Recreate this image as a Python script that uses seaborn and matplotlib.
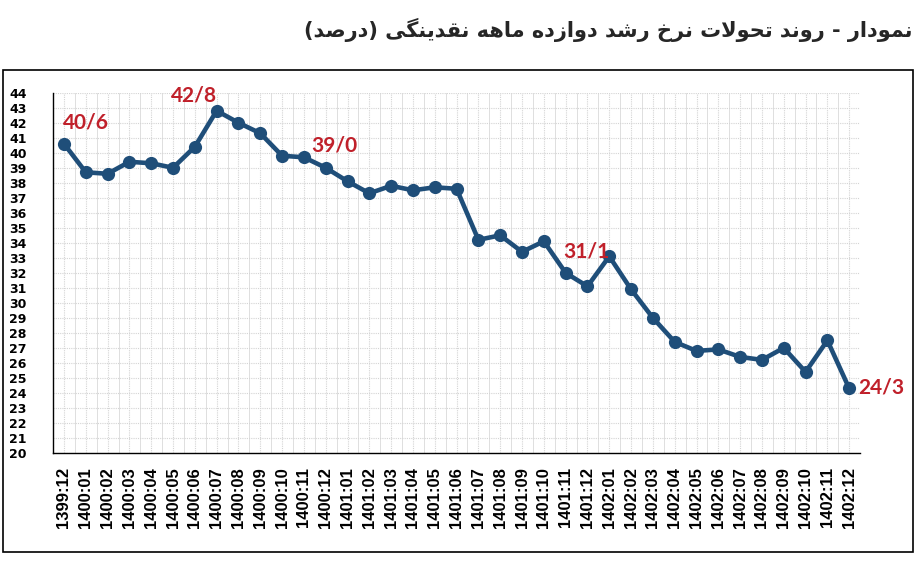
import seaborn as sns
import pandas as pd
import matplotlib.pyplot as plt
from matplotlib.patches import Rectangle
from matplotlib.ticker import FixedLocator

# data
periods = ["1399:12",
           "1400:01", "1400:02", "1400:03", "1400:04", "1400:05", "1400:06",
           "1400:07", "1400:08", "1400:09", "1400:10", "1400:11", "1400:12",
           "1401:01", "1401:02", "1401:03", "1401:04", "1401:05", "1401:06",
           "1401:07", "1401:08", "1401:09", "1401:10", "1401:11", "1401:12",
           "1402:01", "1402:02", "1402:03", "1402:04", "1402:05", "1402:06",
           "1402:07", "1402:08", "1402:09", "1402:10", "1402:11", "1402:12"]
growth = [40.6,
          38.7, 38.6, 39.4, 39.3, 39.0, 40.4,
          42.8, 42.0, 41.3, 39.8, 39.7, 39.0,
          38.1, 37.3, 37.8, 37.5, 37.7, 37.6,
          34.2, 34.5, 33.4, 34.1, 32.0, 31.1,
          33.1, 30.9, 29.0, 27.4, 26.8, 26.9,
          26.4, 26.2, 27.0, 25.4, 27.5, 24.3]
labeled = ["1399:12", "1400:07", "1400:12", "1401:12", "1402:12"]
label_offsets = [(16, 15), (-16, 11), (6, 16), (-1, 25), (23, 1)]

title = "نمودار - روند تحولات نرخ رشد دوازده ماهه نقدینگی (درصد)"

# matplotlib has no arabic shaping, so map letters to presentation forms
FORMS = {
    "ا": ("\uFE8D", "\uFE8E", None, None),
    "ت": ("\uFE95", "\uFE96", "\uFE97", "\uFE98"),
    "ح": ("\uFEA1", "\uFEA2", "\uFEA3", "\uFEA4"),
    "خ": ("\uFEA5", "\uFEA6", "\uFEA7", "\uFEA8"),
    "د": ("\uFEA9", "\uFEAA", None, None),
    "ر": ("\uFEAD", "\uFEAE", None, None),
    "ز": ("\uFEAF", "\uFEB0", None, None),
    "ش": ("\uFEB5", "\uFEB6", "\uFEB7", "\uFEB8"),
    "ص": ("\uFEB9", "\uFEBA", "\uFEBB", "\uFEBC"),
    "ق": ("\uFED5", "\uFED6", "\uFED7", "\uFED8"),
    "ل": ("\uFEDD", "\uFEDE", "\uFEDF", "\uFEE0"),
    "م": ("\uFEE1", "\uFEE2", "\uFEE3", "\uFEE4"),
    "ن": ("\uFEE5", "\uFEE6", "\uFEE7", "\uFEE8"),
    "ه": ("\uFEE9", "\uFEEA", "\uFEEB", "\uFEEC"),
    "و": ("\uFEED", "\uFEEE", None, None),
    "ی": ("\uFBFC", "\uFBFD", "\uFBFE", "\uFBFF"),
    "گ": ("\uFB92", "\uFB93", "\uFB94", "\uFB95"),
}


def shape_fa(text):
    out = []
    i = 0
    n = len(text)
    while i < n:
        c = text[i]
        if c not in FORMS:
            out.append(c)
            i += 1
            continue
        prev = text[i - 1] if i > 0 else None
        conn_prev = prev in FORMS and FORMS[prev][2] is not None
        if c == "ل" and i + 1 < n and text[i + 1] == "ا":
            out.append("\uFEFC" if conn_prev else "\uFEFB")
            i += 2
            continue
        nxt = text[i + 1] if i + 1 < n else None
        iso, fin, ini, med = FORMS[c]
        conn_next = ini is not None and nxt in FORMS
        if conn_prev and conn_next:
            out.append(med)
        elif conn_prev:
            out.append(fin)
        elif conn_next:
            out.append(ini)
        else:
            out.append(iso)
        i += 1
    return "".join(out)[::-1].translate(str.maketrans("()", ")("))


df = pd.DataFrame({"pos": range(len(periods)), "period": periods, "growth": growth})

sns.set_style("white")
plt.rcParams["font.family"] = ["DejaVu Sans"]

fig = plt.figure(figsize=(9.15, 5.62), dpi=100)
ax = fig.add_axes([0.058, 0.194, 0.882, 0.641])

sns.lineplot(data=df, x="pos", y="growth", ax=ax, color="#1F4E79",
             linewidth=3.3, marker="o", markersize=9.5, markeredgewidth=0,
             sort=False, zorder=5)

ax.set_xlim(-0.5, 36.5)
ax.set_ylim(20, 44)
ax.set_yticks(range(20, 45))
ax.set_xticks(df["pos"])
ax.set_xticklabels(periods, rotation=90, fontsize=12, fontweight="bold",
                   family="Liberation Sans")
for t in ax.get_yticklabels():
    t.set_fontsize(9)
    t.set_fontweight("bold")
ax.tick_params(axis="both", length=0, colors="black")
ax.tick_params(axis="y", pad=19)
ax.tick_params(axis="x", pad=10)

# grid
ax.xaxis.set_minor_locator(FixedLocator([p + 0.5 for p in range(-1, 37)]))
ax.grid(True, which="major", axis="both", color="#d4d4d4", linestyle=(0, (1, 1)), linewidth=0.8)
ax.grid(True, which="minor", axis="x", color="#dedede", linestyle="-", linewidth=0.7)
ax.tick_params(axis="x", which="minor", length=0)

for side in ["top", "right"]:
    ax.spines[side].set_visible(False)
for side in ["left", "bottom"]:
    ax.spines[side].set_color("black")
    ax.spines[side].set_linewidth(1.0)

ax.set_xlabel("")
ax.set_ylabel("")

# value labels
for per, off in zip(labeled, label_offsets):
    row = df[df["period"] == per].iloc[0]
    ax.annotate(f"{row['growth']:.1f}".replace(".", "/"), (row["pos"], row["growth"]),
                xytext=off, textcoords="offset points", ha="center", va="center",
                color="#C0202A", fontsize=15, fontweight="bold", family="Lato",
                zorder=6)

# outer frame
fig.patches.append(Rectangle((0.003, 0.018), 0.995, 0.858, transform=fig.transFigure,
                             fill=False, edgecolor="black", linewidth=1.2))

fig.text(0.997, 0.947, shape_fa(title), ha="right", va="center",
         fontsize=15, fontweight="bold", family="DejaVu Sans")

fig.savefig("out.png", dpi=100)
